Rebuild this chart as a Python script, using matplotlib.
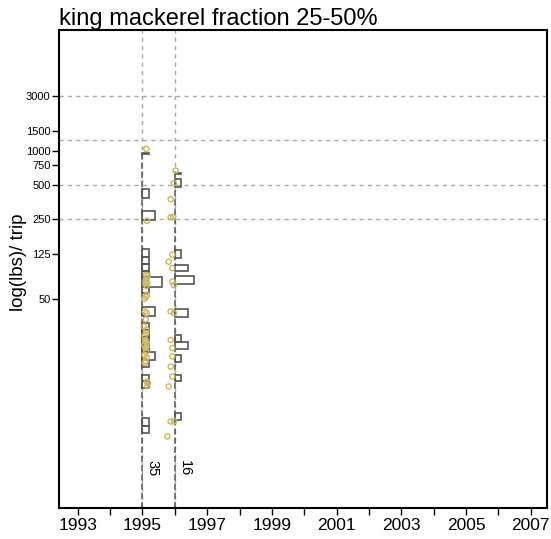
import numpy as np
import matplotlib
matplotlib.use("Agg")
import matplotlib.pyplot as plt
from matplotlib.ticker import NullLocator, FixedLocator

plt.rcParams['font.family'] = ['Liberation Sans', 'DejaVu Sans']

# ---------------- data ----------------
title = "king mackerel fraction 25-50%"
ylabel = "log(lbs)/ trip"
years = [1995, 1996]
n_trips = [35, 16]
ytick_vals = [50, 125, 250, 500, 750, 1000, 1500, 3000]
hgrid_vals = [250, 500, 1250, 3000]
xtick_years = list(range(1993, 2008))
xtick_labels = [str(y) if y % 2 == 1 else "" for y in xtick_years]

# histogram bins per year: lower edge, upper edge (lbs/trip), count
bins_1995_lo = [936, 382, 247, 117.5, 101, 88, 78, 64, 56, 35.5, 26.7, 23.1, 19.7, 17.2, 14.4, 12.6, 9.5, 8.3, 3.8, 3.3]
bins_1995_hi = [960, 458, 298, 136, 117.5, 101, 88, 78, 64, 42.3, 30.6, 26.7, 23.1, 19.7, 17.2, 14.4, 10.8, 9.5, 4.5, 3.8]
bins_1995_n = [1, 1, 2, 1, 1, 1, 1, 3, 1, 2, 1, 1, 1, 1, 2, 1, 1, 1, 1, 1]

bins_1996_lo = [625, 483, 114, 87, 68, 34.5, 21.1, 18.3, 14.0, 9.6, 4.3]
bins_1996_hi = [641, 561, 133, 100, 80, 40.6, 24.2, 21.1, 16.1, 10.8, 5.0]
bins_1996_n = [1, 1, 1, 2, 3, 2, 1, 2, 1, 1, 1]

# individual trips (lbs/trip) and their horizontal jitter (years)
pts_1995 = [1035, 242, 81, 80, 76, 71, 69, 68, 65, 54, 52, 50, 38.7, 37.5, 33,
            28.6, 26.7, 25, 23.7, 21.8, 21.1, 20.5, 19.7, 19.1, 18.5, 17.1, 16.1,
            15.2, 14.2, 13.7, 9.4, 9.1, 8.6]
jit_1995 = [0.12, 0.14, 0.11, 0.16, 0.13, 0.10, 0.15, 0.09, 0.12, 0.14, 0.11, 0.06, 0.08, 0.13, 0.10,
            0.04, 0.12, 0.11, 0.07, 0.08, 0.10, 0.13, 0.06, 0.12, 0.09, 0.11, 0.07,
            0.13, 0.10, 0.08, 0.14, 0.17, 0.15]
pts_1996 = [668, 517, 375, 260, 260, 122, 106, 93, 71, 66, 38.7, 37.5, 21.8, 18.5,
            15.6, 12.7, 10.4, 8.5, 4.2, 4.2, 3.1]
jit_1996 = [0.02, -0.03, -0.13, -0.13, -0.05, -0.08, -0.19, -0.08, -0.08, -0.03, -0.13, -0.03,
            -0.13, -0.08, -0.08, -0.13, -0.08, -0.19, -0.13, -0.03, -0.23]

bins_lo = [bins_1995_lo, bins_1996_lo]
bins_hi = [bins_1995_hi, bins_1996_hi]
bins_n = [bins_1995_n, bins_1996_n]
pts = [pts_1995, pts_1996]
jit = [jit_1995, jit_1996]

# ---------------- style ----------------
W, H = 551, 539
grid_col = "#a8a8a8"
hist_col = "#555555"
pt_col = "#ccb75c"
years_per_count = 0.2

fig = plt.figure(figsize=(W / 100, H / 100), dpi=100)
ax = fig.add_axes([59 / W, 1 - 508 / H, (547 - 59) / W, (508 - 29.5) / H])
ax.set_yscale("log")
ax.set_xlim(1992.42, 2007.5)
ax.set_ylim(0.73, 11560)

for v in hgrid_vals:
    ax.axhline(v, color=grid_col, lw=1, ls=(0, (3, 3)), zorder=1)
for yr in years:
    ax.axvline(yr, color=grid_col, lw=1, ls=(0, (3, 3)), zorder=1)

ybot = ax.get_ylim()[0]
for yr, lo, hi, cnt, p, j, n in zip(years, bins_lo, bins_hi, bins_n, pts, jit, n_trips):
    lo = np.array(lo); hi = np.array(hi); cnt = np.array(cnt)
    ax.plot([yr, yr], [ybot, hi.max()], color=hist_col, lw=1.1, ls=(0, (4, 2)), zorder=2)
    ax.barh(lo, cnt * years_per_count, height=hi - lo, left=yr, align="edge",
            fill=False, edgecolor=hist_col, lw=1.2, zorder=3)
    ax.scatter(yr + np.array(j), p, s=14, facecolors="none", edgecolors=pt_col,
               linewidths=1.0, zorder=4)
    ax.text(yr + 0.31, 1.65, str(n), rotation=-90, ha="center", va="center",
            fontsize=10.5, zorder=5)

ax.yaxis.set_major_locator(FixedLocator(ytick_vals))
ax.yaxis.set_minor_locator(NullLocator())
ax.set_yticklabels([str(v) for v in ytick_vals])
ax.set_xticks(xtick_years)
ax.set_xticklabels(xtick_labels)
ax.tick_params(axis="x", length=5, width=1, labelsize=12.5, pad=2)
ax.tick_params(axis="y", length=5, width=1, labelsize=8, pad=1)
for s in ax.spines.values():
    s.set_linewidth(1.5)

ax.set_title(title, loc="left", fontsize=17, pad=0)
fig.text(19 / W, 1 - 262 / H, ylabel, rotation=90, ha="center", va="center", fontsize=13.5)

fig.savefig("out.png", dpi=100)
